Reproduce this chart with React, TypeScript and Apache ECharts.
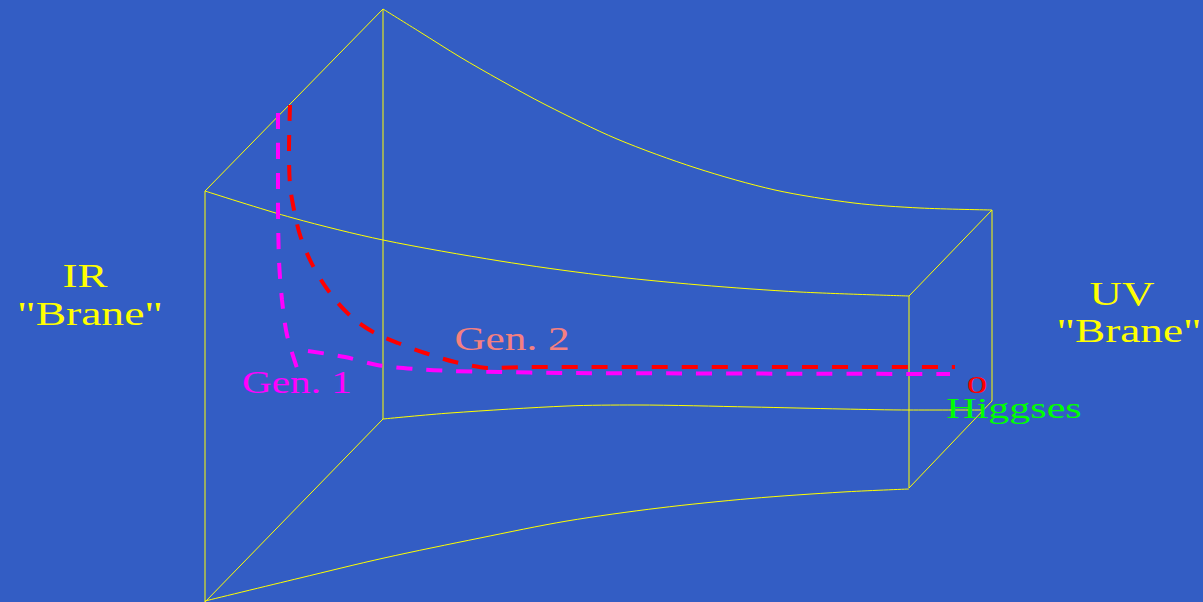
import { useEffect, useRef } from 'react';
import * as echarts from 'echarts';

// ---------- data (pixel-space coordinates) ----------
const frontLeftEdge = [[205, 191], [205, 602]];
const backLeftEdge = [[383, 9], [383, 419]];
const leftTopDiagonal = [[205, 191], [383, 9]];
const leftBottomDiagonal = [[205, 602], [383, 419]];
const frontRightEdge = [[909, 296], [909, 488]];
const backRightEdge = [[992, 210], [992, 401]];
const rightTopDiagonal = [[909, 296], [992, 210]];
const rightBottomDiagonal = [[909, 488], [992, 401]];

const topFrontCurve = [[205, 191], [293, 218], [383, 240], [500, 261], [600, 275], [700, 285], [800, 292], [909, 296]];
const topBackCurve = [[383, 9], [420, 32], [460, 57], [500, 80], [546, 105], [617, 139], [696, 168], [775, 190], [854, 203], [920, 208], [992, 210]];
const bottomBackCurve = [[383, 419], [450, 413], [567, 406], [636, 405], [751, 407], [843, 409], [909, 410], [983, 410]];
const bottomFrontCurve = [[205, 601], [300, 578], [384, 558], [480, 538], [567, 521], [659, 508], [751, 498.5], [843, 492], [909, 489]];

const gen2Path = [[290, 105], [289, 150], [290, 185], [294, 210], [300, 235], [310, 260], [323, 283], [338, 303], [355, 320], [375, 333], [398, 343], [425, 353], [455, 362], [490, 368], [530, 367], [955, 367]];
const gen1Vertical = [[278, 113], [278, 200], [279, 260], [282, 300], [287, 335], [297, 368]];
const gen1Horizontal = [[308, 351], [345, 357], [377, 365], [415, 369], [452, 371], [500, 372], [560, 373], [950, 374]];

const labelTexts = ['IR', '"Brane"', 'UV', '"Brane"', 'Gen. 2', 'Gen. 1', 'o', 'Higgses'];

// ---------- layout / style ----------
const W = 1203;
const H = 602;
const BG = '#335DC4';
const YELLOW = '#FFFF00';
const SERIF = '"Liberation Serif", "Times New Roman", serif';

const labelLayout = [
  { x: 85, y: 276, size: 33, sx: 1.36, color: YELLOW },
  { x: 90, y: 314, size: 33, sx: 1.38, color: YELLOW },
  { x: 1122, y: 294, size: 34, sx: 1.32, color: YELLOW },
  { x: 1129, y: 331, size: 34, sx: 1.33, color: YELLOW },
  { x: 512, y: 339, size: 33, sx: 1.31, color: '#F58080' },
  { x: 297, y: 383, size: 31, sx: 1.33, color: '#FF00FF' },
  { x: 977, y: 382, size: 33, sx: 1.25, color: '#FF0000' },
  { x: 1014, y: 408, size: 30, sx: 1.4, color: '#00FF00' },
];

function edge(data: number[][], smooth: number | boolean = false) {
  return {
    type: 'line',
    data,
    symbol: 'none',
    smooth,
    silent: true,
    z: 2,
    lineStyle: { color: YELLOW, width: 1 },
  };
}

function dashed(data: number[][], color: string) {
  return {
    type: 'line',
    data,
    symbol: 'none',
    smooth: 0.3,
    silent: true,
    z: 3,
    lineStyle: { color, width: 4, type: [16, 14], cap: 'butt' },
  };
}

export default function App() {
  const ref = useRef<HTMLDivElement>(null);

  useEffect(() => {
    if (!ref.current) return;
    const chart = echarts.init(ref.current, undefined, { renderer: 'svg' });
    chart.setOption({
      animation: false,
      backgroundColor: BG,
      grid: { left: 0, top: 0, width: W, height: H },
      xAxis: { type: 'value', min: 0, max: W, show: false },
      yAxis: { type: 'value', min: 0, max: H, inverse: true, show: false },
      series: [
        edge(frontLeftEdge),
        edge(backLeftEdge),
        edge(leftTopDiagonal),
        edge(leftBottomDiagonal),
        edge(frontRightEdge),
        edge(backRightEdge),
        edge(rightTopDiagonal),
        edge(rightBottomDiagonal),
        edge(topFrontCurve, 0.3),
        edge(topBackCurve, 0.3),
        edge(bottomBackCurve, 0.3),
        edge(bottomFrontCurve, 0.3),
        dashed(gen1Vertical, '#FF00FF'),
        dashed(gen1Horizontal, '#FF00FF'),
        dashed(gen2Path, '#FF0000'),
      ],
      graphic: labelTexts.map((text, i) => {
        const l = labelLayout[i];
        return {
          type: 'text',
          x: l.x,
          y: l.y,
          scaleX: l.sx,
          z: 10,
          silent: true,
          style: {
            text,
            fill: l.color,
            font: `${l.size}px ${SERIF}`,
            textAlign: 'center',
            textVerticalAlign: 'middle',
            align: 'center',
            verticalAlign: 'middle',
          },
        };
      }),
    });
    return () => chart.dispose();
  }, []);

  return (
    <div
      ref={ref}
      style={{ position: 'absolute', left: 0, top: 0, width: W, height: H, background: BG }}
    />
  );
}
